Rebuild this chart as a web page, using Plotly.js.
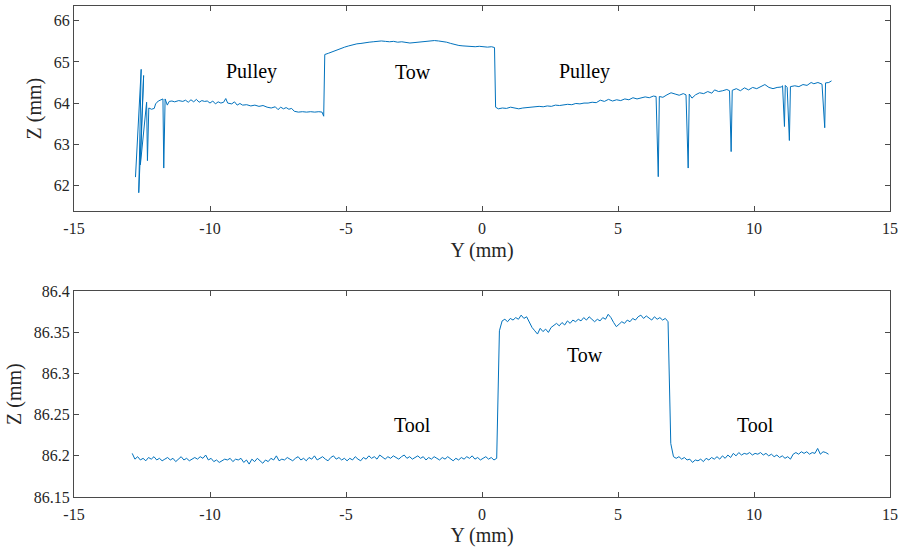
<!DOCTYPE html>
<html><head><meta charset="utf-8">
<script src="https://cdn.plot.ly/plotly-3.0.1.min.js"></script>
</head><body style="margin:0"><div id="chart" style="width:898px;height:547px"></div>
<script>
// Top panel: pulley + tow profile
const topY = [-12.74,-12.53,-12.62,-12.44,-12.56,-12.33,-12.3,-12.25,-12.15,-12.05,-12.0,-11.9,-11.8,-11.73,-11.7,-11.65,-11.57,-11.5,
-11.4,-11.3,-11.15,-11.0,-10.9,-10.8,-10.7,-10.6,-10.5,-10.4,-10.3,-10.2,-10.1,-10.0,-9.9,-9.8,-9.7,-9.6,-9.5,-9.42,-9.35,-9.2,-9.1,-9.0,-8.9,-8.8,-8.65,-8.5,-8.35,-8.2,-8.05,-7.9,-7.75,-7.6,-7.5,-7.4,-7.3,-7.2,-7.1,-7.0,-6.9,-6.75,-6.6,-6.45,-6.3,-6.15,-6.0,-5.88,-5.82,
-5.78,-5.65,-5.5,-5.35,-5.2,-5.05,-4.9,-4.75,-4.6,-4.45,-4.3,-4.15,-4.0,-3.85,-3.7,-3.55,-3.4,-3.25,-3.1,-2.95,-2.8,-2.65,-2.5,-2.35,-2.2,-2.05,-1.9,-1.75,-1.6,-1.45,-1.3,-1.15,-1.0,-0.85,-0.7,-0.55,-0.4,-0.25,-0.1,0.05,0.2,0.35,0.46,
0.5,0.6,0.75,0.9,1.05,1.2,1.35,1.5,1.65,1.8,1.95,2.1,2.25,2.4,2.55,2.7,2.85,3.0,3.15,3.3,3.45,3.6,3.75,3.9,4.05,4.2,4.35,4.5,4.65,4.8,4.95,5.1,5.25,5.4,5.55,5.7,5.85,6.0,6.15,6.3,6.4,6.48,6.52,6.65,6.8,6.95,7.1,7.25,7.4,7.5,7.58,7.62,7.72,7.85,8.0,8.15,8.3,8.45,8.55,8.7,8.85,9.0,9.1,9.16,9.2,9.35,9.5,9.65,9.8,9.95,10.1,10.25,10.4,10.55,10.7,10.85,11.0,11.05,11.12,11.15,11.22,11.3,11.34,11.5,11.65,11.8,11.95,12.1,12.2,12.35,12.5,12.6,12.63,12.75,12.85];
const topZ = [62.2,64.82,61.82,64.67,62.5,64.02,62.6,63.88,63.85,63.87,63.98,64.05,64.07,64.1,62.42,64.1,63.95,64.04,
64.05,64.03,64.06,64.04,64.07,64.02,64.08,64.03,64.09,64.02,64.06,64.04,64.05,64.0,64.05,63.98,64.03,64.0,64.02,64.11,64.0,63.98,64.03,63.95,63.99,63.95,63.96,63.93,63.95,63.92,63.94,63.9,63.88,63.91,63.84,63.9,63.86,63.89,63.85,63.87,63.8,63.78,63.79,63.78,63.79,63.78,63.79,63.78,63.68,
65.18,65.21,65.25,65.29,65.32,65.36,65.39,65.42,65.44,65.45,65.47,65.48,65.49,65.5,65.51,65.5,65.49,65.5,65.48,65.49,65.47,65.46,65.47,65.48,65.49,65.5,65.51,65.52,65.51,65.5,65.48,65.45,65.42,65.4,65.39,65.38,65.38,65.37,65.38,65.37,65.36,65.37,65.35,
63.9,63.86,63.88,63.87,63.9,63.88,63.86,63.88,63.89,63.9,63.91,63.92,63.91,63.93,63.92,63.95,63.94,63.96,63.97,63.96,63.99,63.98,64.0,64.0,64.02,64.01,64.07,64.04,64.09,64.05,64.08,64.06,64.1,64.08,64.13,64.1,64.13,64.15,64.13,64.17,64.16,62.21,64.16,64.14,64.2,64.25,64.22,64.19,64.23,64.2,62.42,64.22,64.12,64.2,64.25,64.23,64.28,64.24,64.32,64.28,64.3,64.33,64.3,62.82,64.31,64.35,64.3,64.37,64.32,64.38,64.35,64.4,64.45,64.38,64.35,64.38,64.39,64.42,63.43,64.43,64.38,63.09,64.4,64.42,64.4,64.45,64.43,64.5,64.47,64.5,64.46,63.4,64.49,64.5,64.54];

// Bottom panel: tool + tow profile, sampled every 0.1 mm from -12.86 mm
const botStart = -12.86;
const botStep = 0.1;
const botZ = [
86.203,86.196,86.199,86.195,86.197,86.194,86.198,86.196,86.199,86.195,
86.197,86.194,86.196,86.198,86.195,86.197,86.193,86.196,86.199,86.195,
86.197,86.194,86.196,86.198,86.196,86.199,86.197,86.201,86.195,86.197,
86.193,86.195,86.192,86.194,86.196,86.195,86.197,86.193,86.196,86.195,
86.197,86.192,86.195,86.190,86.196,86.193,86.197,86.194,86.191,86.195,
86.193,86.197,86.195,86.200,86.194,86.196,86.195,86.198,86.196,86.194,
86.197,86.199,86.195,86.197,86.194,86.198,86.196,86.200,86.195,86.197,
86.199,86.196,86.194,86.198,86.200,86.196,86.198,86.195,86.197,86.194,
86.197,86.195,86.199,86.196,86.194,86.198,86.196,86.200,86.197,86.199,
86.196,86.201,86.198,86.196,86.199,86.197,86.200,86.198,86.196,86.199,
86.201,86.197,86.199,86.196,86.198,86.200,86.197,86.199,86.195,86.198,
86.196,86.199,86.197,86.195,86.198,86.196,86.199,86.197,86.194,86.197,
86.195,86.198,86.196,86.199,86.197,86.200,86.196,86.198,86.195,86.197,
86.199,86.196,86.198,86.195,86.197,
86.352,86.364,86.366,86.363,86.367,86.365,86.368,86.366,86.371,86.367,
86.369,86.362,86.356,86.352,86.348,86.355,86.351,86.354,86.350,86.356,
86.359,86.361,86.358,86.362,86.359,86.364,86.361,86.365,86.363,86.366,
86.364,86.368,86.365,86.369,86.366,86.363,86.366,86.364,86.368,86.366,
86.372,86.368,86.362,86.357,86.360,86.363,86.361,86.365,86.363,86.367,
86.365,86.369,86.371,86.367,86.370,86.368,86.365,86.369,86.366,86.368,
86.365,86.367,86.363,
86.215,86.199,86.197,86.199,86.196,86.198,86.195,86.196,86.192,86.195,
86.194,86.196,86.193,86.197,86.195,86.198,86.196,86.199,86.196,86.200,
86.197,86.201,86.198,86.203,86.200,86.204,86.201,86.203,86.202,86.204,
86.201,86.203,86.202,86.204,86.201,86.203,86.200,86.202,86.199,86.201,
86.198,86.200,86.197,86.199,86.196,86.202,86.204,86.202,86.205,86.203,
86.205,86.202,86.204,86.203,86.209,86.202,86.205,86.204,86.202];

const xTickVals = [-15,-10,-5,0,5,10,15];
const xTickText = ['-15','-10','-5','0','5','10','15'];
const topTickVals = [62,63,64,65,66];
const topTickText = ['62','63','64','65','66'];
const botTickVals = [86.15,86.2,86.25,86.3,86.35,86.4];
const botTickText = ['86.15','86.2','86.25','86.3','86.35','86.4'];

const labelsTop = ['Pulley','Tow','Pulley'];
const labelsTopX = [-8.46,-2.55,3.77];
const labelsTopZ = [64.76,64.76,64.76];
const labelsBot = ['Tool','Tow','Tool'];
const labelsBotX = [-2.55,3.79,10.07];
const labelsBotZ = [86.237,86.323,86.237];

const SERIF = 'Liberation Serif';
const TXT = '#262626';
const AXC = '#4a4a4a';
const LINEC = '#0072BD';

const traces = [
  {x: topY, y: topZ, type:'scatter', mode:'lines', line:{color:LINEC, width:1}, xaxis:'x', yaxis:'y', hoverinfo:'skip'},
  {x0: botStart, dx: botStep, y: botZ, type:'scatter', mode:'lines', line:{color:LINEC, width:1}, xaxis:'x2', yaxis:'y2', hoverinfo:'skip'}
];

const ann = [];
labelsTop.forEach((t,i)=>ann.push({x:labelsTopX[i], y:labelsTopZ[i], xref:'x', yref:'y', text:t, showarrow:false, font:{family:SERIF, size:20, color:'#000'}}));
labelsBot.forEach((t,i)=>ann.push({x:labelsBotX[i], y:labelsBotZ[i], xref:'x2', yref:'y2', text:t, showarrow:false, font:{family:SERIF, size:20, color:'#000'}}));

function xa(anchor){
  return {range:[-15,15], tickmode:'array', tickvals:xTickVals, ticktext:xTickText, ticks:'inside', ticklen:5, tickcolor:AXC, mirror:'ticks', showline:true, linecolor:AXC, linewidth:1, showgrid:false, zeroline:false, anchor:anchor,
    ticklabelstandoff:3,
    tickfont:{family:SERIF, size:16, color:TXT}, title:{text:'Y (mm)', font:{family:SERIF, size:20, color:TXT}, standoff:6}};
}
function ya(anchor, dom, range, tv, tt){
  return {domain:dom, range:range, tickmode:'array', tickvals:tv, ticktext:tt, ticks:'inside', ticklen:5, tickcolor:AXC, mirror:'ticks', showline:true, linecolor:AXC, linewidth:1, showgrid:false, zeroline:false, anchor:anchor,
    tickfont:{family:SERIF, size:16, color:TXT}, title:{text:'Z (mm)', font:{family:SERIF, size:20, color:TXT}, standoff:6}};
}

const layout = {
  width:898, height:547, margin:{l:74, r:8, t:6, b:50},
  font:{family:SERIF, size:16, color:TXT},
  paper_bgcolor:'#fff', plot_bgcolor:'#fff', showlegend:false,
  xaxis: xa('y'), yaxis: ya('x', [0.582,1], [61.37,66.36], topTickVals, topTickText),
  xaxis2: xa('y2'), yaxis2: ya('x2', [0,0.419], [86.15,86.4], botTickVals, botTickText),
  annotations: ann
};
Plotly.newPlot('chart', traces, layout, {staticPlot:true, displayModeBar:false});
</script></body></html>
